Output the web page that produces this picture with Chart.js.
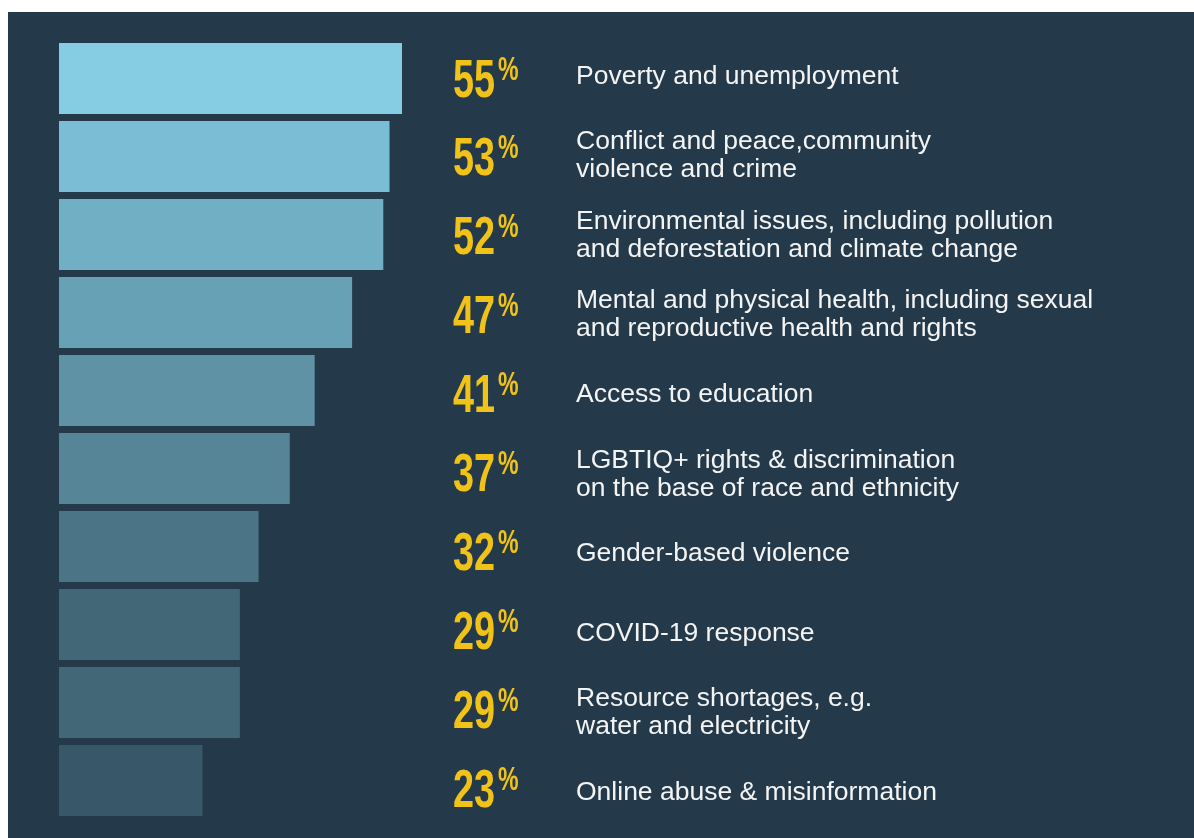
<!DOCTYPE html>
<html>
<head>
<meta charset="utf-8">
<script src="https://cdn.jsdelivr.net/npm/chart.js@4.4.1/dist/chart.umd.min.js"></script>
<style>
  html, body { margin: 0; padding: 0; background: #ffffff; overflow: hidden; }
  #wrap { position: absolute; left: 0; top: 0; width: 1194px; height: 838px; }
</style>
</head>
<body>
<div id="wrap"><canvas id="c"></canvas></div>
<script>
const categories = [
  "Poverty and unemployment",
  ["Conflict and peace,community", "violence and crime"],
  ["Environmental issues, including pollution", "and deforestation and climate change"],
  ["Mental and physical health, including sexual", "and reproductive health and rights"],
  "Access to education",
  ["LGBTIQ+ rights & discrimination", "on the base of race and ethnicity"],
  "Gender-based violence",
  "COVID-19 response",
  ["Resource shortages, e.g.", "water and electricity"],
  "Online abuse & misinformation"
];
const values = [55, 53, 52, 47, 41, 37, 32, 29, 29, 23];
const percentLabels = values.map(v => String(v));
const barColors = ["#86cde3", "#7abdd4", "#71afc5", "#67a1b6", "#5e92a4",
                   "#558596", "#4b7486", "#426878", "#426878", "#38586a"];

const BG = "#243a4a";
const YELLOW = "#f1c318";
const WHITE = "#f4f4f4";

const bgPlugin = {
  id: "bg",
  beforeDraw(chart) {
    const ctx = chart.ctx;
    ctx.save();
    ctx.fillStyle = BG;
    ctx.fillRect(8, 12, chart.width - 8, chart.height - 12);
    ctx.restore();
  }
};

const labelPlugin = {
  id: "sideLabels",
  afterDatasetsDraw(chart) {
    const ctx = chart.ctx;
    const ys = chart.scales.y;
    categories.forEach((lab, i) => {
      const yc = ys.getPixelForValue(i);
      // percentage value (condensed)
      const py = yc - 1 + i * 0.9;
      ctx.save();
      ctx.translate(453, py + 19);
      ctx.scale(0.7, 1);
      ctx.fillStyle = YELLOW;
      ctx.textAlign = "left";
      ctx.textBaseline = "alphabetic";
      ctx.font = 'bold 54px "Liberation Sans", Arial, sans-serif';
      const txt = percentLabels[i];
      ctx.fillText(txt, 0, 0);
      const w = ctx.measureText(txt).width;
      ctx.font = 'bold 33px "Liberation Sans", Arial, sans-serif';
      ctx.fillText("%", w + 3 / 0.7, -17);
      ctx.restore();

      // category label
      const lines = Array.isArray(lab) ? lab : [lab];
      const mid = yc + 5 + 1.6 * i;
      ctx.save();
      ctx.fillStyle = WHITE;
      ctx.textAlign = "left";
      ctx.textBaseline = "alphabetic";
      ctx.font = '26.5px "Liberation Sans", Arial, sans-serif';
      if (lines.length === 1) {
        ctx.fillText(lines[0], 576, mid);
      } else {
        ctx.fillText(lines[0], 576, mid - 14);
        ctx.fillText(lines[1], 576, mid + 14);
      }
      ctx.restore();
    });
  }
};

new Chart(document.getElementById("c"), {
  type: "bar",
  data: {
    labels: categories.map(c => Array.isArray(c) ? c.join(" ") : c),
    datasets: [{
      data: values,
      backgroundColor: barColors,
      borderWidth: 0,
      barPercentage: 71 / 78,
      categoryPercentage: 1
    }]
  },
  options: {
    indexAxis: "y",
    responsive: true,
    maintainAspectRatio: false,
    animation: false,
    layout: { padding: { left: 59, right: 792, top: 39.5, bottom: 18.5 } },
    scales: {
      x: { display: false, min: 0, max: 55 },
      y: { display: false }
    },
    plugins: {
      legend: { display: false },
      tooltip: { enabled: false }
    }
  },
  plugins: [bgPlugin, labelPlugin]
});
</script>
</body>
</html>
